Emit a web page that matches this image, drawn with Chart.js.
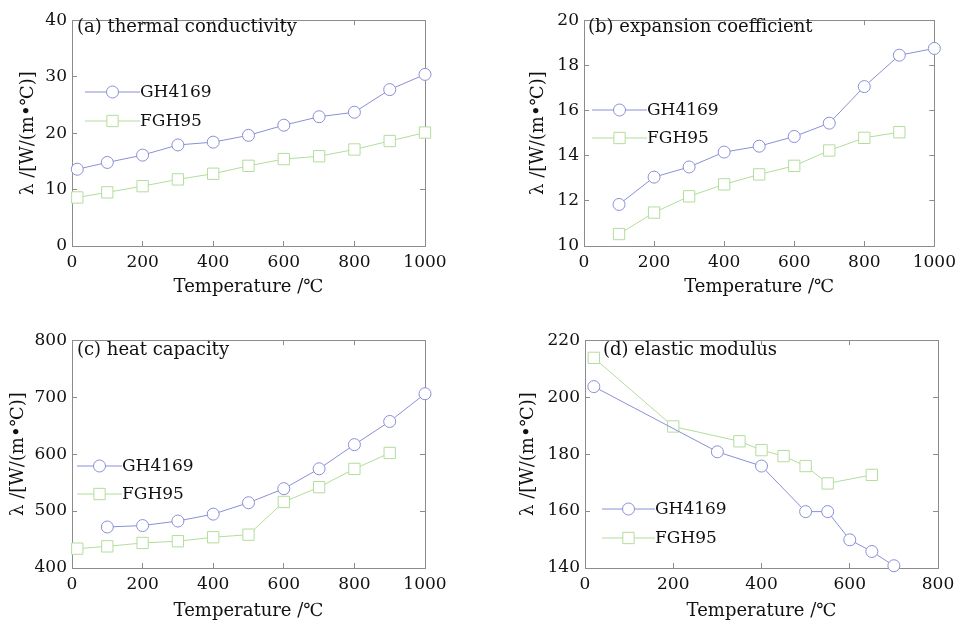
<!DOCTYPE html>
<html>
<head>
<meta charset="utf-8">
<script src="https://cdn.jsdelivr.net/npm/chart.js@4"></script>
<style>
  body { margin: 0; background: #fff; }
  .panel { position: absolute; }
</style>
</head>
<body>
<div class="panel" style="left:0;top:0;width:480px;height:310px"><canvas id="chart-a"></canvas></div>
<div class="panel" style="left:480px;top:0;width:487px;height:310px"><canvas id="chart-b"></canvas></div>
<div class="panel" style="left:0;top:320px;width:480px;height:306px"><canvas id="chart-c"></canvas></div>
<div class="panel" style="left:480px;top:320px;width:487px;height:306px"><canvas id="chart-d"></canvas></div>
<script>
// (a) thermal conductivity
const tempA = [15, 100, 200, 300, 400, 500, 600, 700, 800, 900, 1000];
const gh4169A = [13.6, 14.8, 16.1, 17.9, 18.4, 19.6, 21.4, 22.9, 23.7, 27.7, 30.4];
const fgh95A = [8.6, 9.5, 10.6, 11.8, 12.8, 14.2, 15.4, 15.9, 17.1, 18.6, 20.1];

// (b) expansion coefficient
const tempBGh = [100, 200, 300, 400, 500, 600, 700, 800, 900, 1000];
const gh4169B = [11.84, 13.05, 13.5, 14.16, 14.42, 14.85, 15.44, 17.06, 18.45, 18.75];
const tempBFgh = [100, 200, 300, 400, 500, 600, 700, 800, 900];
const fgh95B = [10.53, 11.48, 12.2, 12.73, 13.17, 13.55, 14.23, 14.79, 15.04];

// (c) heat capacity
const tempCGh = [100, 200, 300, 400, 500, 600, 700, 800, 900, 1000];
const gh4169C = [472, 474.5, 482.5, 494.6, 514.6, 539.3, 574.2, 616.6, 657.3, 706];
const tempCFgh = [15, 100, 200, 300, 400, 500, 600, 700, 800, 900];
const fgh95C = [434, 438, 444, 447, 454, 458.5, 516, 542, 574, 602];

// (d) elastic modulus
const tempDGh = [20, 300, 400, 500, 550, 600, 650, 700];
const gh4169D = [203.7, 180.8, 175.8, 159.8, 159.8, 149.9, 145.8, 140.8];
const tempDFgh = [20, 200, 350, 400, 450, 500, 550, 650];
const fgh95D = [213.8, 189.7, 184.5, 181.4, 179.3, 175.8, 169.7, 172.7];

const seriesNames = ["GH4169", "FGH95"];
const panelLabels = [
  "(a) thermal conductivity",
  "(b) expansion coefficient",
  "(c) heat capacity",
  "(d) elastic modulus",
];
const xTitle = "Temperature /\u2103";
const yTitle = "\u03bb /[W/(m\u2022\u2103)]";

const blue = "#8a8fd6";
const green = "#b3dd9c";
const axisGray = "#8c8c8c";
const serif = "'DejaVu Serif', serif";

const pts = (xs, ys) => xs.map((x, i) => ({ x: x, y: ys[i] }));

// legend drawn as line + marker + text, like the original figure
const lineLegend = {
  id: "lineLegend",
  afterDatasetsDraw(chart, args, opts) {
    const ctx = chart.ctx;
    ctx.save();
    chart.data.datasets.forEach((ds, i) => {
      const y = opts.ys[i];
      ctx.strokeStyle = ds.borderColor;
      ctx.lineWidth = 1;
      ctx.beginPath();
      ctx.moveTo(opts.x, y);
      ctx.lineTo(opts.x + opts.len, y);
      ctx.stroke();
      ctx.fillStyle = "#fff";
      ctx.strokeStyle = ds.borderColor;
      Chart.helpers.drawPoint(
        ctx,
        { pointStyle: ds.pointStyle, radius: ds.pointRadius, borderWidth: 1 },
        opts.x + opts.len / 2,
        y
      );
      ctx.fillStyle = "#111";
      ctx.font = "17px " + serif;
      ctx.textBaseline = "middle";
      ctx.textAlign = "left";
      ctx.fillText(ds.label, opts.x + opts.len, y + 1);
    });
    ctx.restore();
  },
};

const panelLabel = {
  id: "panelLabel",
  afterDraw(chart, args, opts) {
    const ctx = chart.ctx;
    ctx.save();
    ctx.fillStyle = "#111";
    ctx.font = "18px " + serif;
    ctx.textBaseline = "middle";
    ctx.fillText(opts.text, opts.x, opts.y);
    ctx.restore();
  },
};

const mk = (id, cfg) => {
  const ds = [
    {
      label: seriesNames[0],
      data: cfg.gh,
      borderColor: blue,
      pointStyle: "circle",
      pointRadius: 6,
    },
    {
      label: seriesNames[1],
      data: cfg.fgh,
      borderColor: green,
      pointStyle: "rect",
      pointRadius: 8,
    },
  ].map((d) => ({
    ...d,
    backgroundColor: "#fff",
    borderWidth: 1,
    pointBorderWidth: 1,
    pointBorderColor: d.borderColor,
    pointBackgroundColor: "#fff",
    pointHoverRadius: d.pointRadius,
    tension: 0,
    clip: false,
  }));

  const tickFont = { family: serif, size: 17 };
  const plain = (v) => String(v);
  const hiddenAxis = (axis, pos, fitKey) => ({
    type: "linear",
    position: pos,
    min: axis.min,
    max: axis.max,
    ticks: { display: false, stepSize: axis.step },
    grid: { drawOnChartArea: false, drawTicks: true, tickLength: -5, color: axisGray },
    border: { color: axisGray },
    afterFit: (s) => { s[fitKey] = 0; },
  });

  new Chart(document.getElementById(id), {
    type: "line",
    data: { datasets: ds },
    options: {
      responsive: true,
      maintainAspectRatio: false,
      animation: false,
      layout: { padding: { left: 0, top: cfg.padTop, right: cfg.padRight, bottom: 0 } },
      plugins: {
        legend: { display: false },
        tooltip: { enabled: false },
        lineLegend: cfg.legend,
        panelLabel: cfg.label,
      },
      scales: {
        x: {
          type: "linear",
          position: "bottom",
          min: cfg.x.min,
          max: cfg.x.max,
          ticks: { stepSize: cfg.x.step, color: "#111", font: tickFont, padding: 11, maxRotation: 0, callback: plain },
          grid: { drawOnChartArea: false, drawTicks: true, tickLength: -5, color: axisGray },
          border: { color: axisGray },
          title: {
            display: true,
            text: xTitle,
            color: "#111",
            font: { family: serif, size: 18 },
            padding: { top: 0, bottom: cfg.xTitlePad },
          },
          afterFit: (s) => { s.height = cfg.xHeight; },
        },
        x2: hiddenAxis(cfg.x, "top", "height"),
        y: {
          type: "linear",
          position: "left",
          min: cfg.y.min,
          max: cfg.y.max,
          ticks: { stepSize: cfg.y.step, color: "#111", font: tickFont, padding: 10, callback: plain },
          grid: { drawOnChartArea: false, drawTicks: true, tickLength: -5, color: axisGray },
          border: { color: axisGray },
          title: {
            display: true,
            text: yTitle,
            color: "#111",
            font: { family: serif, size: 18 },
            padding: { top: cfg.yTitlePad, bottom: 0 },
          },
          afterFit: (s) => { s.width = cfg.yWidth; },
        },
        y2: hiddenAxis(cfg.y, "right", "width"),
      },
    },
    plugins: [lineLegend, panelLabel],
  });
};

mk("chart-a", {
  gh: pts(tempA, gh4169A),
  fgh: pts(tempA, fgh95A),
  x: { min: 0, max: 1000, step: 200 },
  y: { min: 0, max: 40, step: 10 },
  padTop: 15, padRight: 55, xHeight: 64, yWidth: 72,
  xTitlePad: 12, yTitlePad: 18,
  legend: { x: 85, len: 55, ys: [92, 121] },
  label: { text: panelLabels[0], x: 77, y: 27 },
});

mk("chart-b", {
  gh: pts(tempBGh, gh4169B),
  fgh: pts(tempBFgh, fgh95B),
  x: { min: 0, max: 1000, step: 200 },
  y: { min: 10, max: 20, step: 2 },
  padTop: 15, padRight: 29, xHeight: 64, yWidth: 104,
  xTitlePad: 12, yTitlePad: 48,
  legend: { x: 112, len: 55, ys: [110, 138] },
  label: { text: panelLabels[1], x: 108, y: 27 },
});

mk("chart-c", {
  gh: pts(tempCGh, gh4169C),
  fgh: pts(tempCFgh, fgh95C),
  x: { min: 0, max: 1000, step: 200 },
  y: { min: 400, max: 800, step: 100 },
  padTop: 16, padRight: 55, xHeight: 58, yWidth: 72,
  xTitlePad: 4, yTitlePad: 8,
  legend: { x: 77, len: 45, ys: [146, 174] },
  label: { text: panelLabels[2], x: 77, y: 30 },
});

mk("chart-d", {
  gh: pts(tempDGh, gh4169D),
  fgh: pts(tempDFgh, fgh95D),
  x: { min: 0, max: 800, step: 200 },
  y: { min: 140, max: 220, step: 20 },
  padTop: 16, padRight: 29, xHeight: 58, yWidth: 105,
  xTitlePad: 4, yTitlePad: 38,
  legend: { x: 122, len: 53, ys: [189, 218] },
  label: { text: panelLabels[3], x: 123, y: 30 },
});
</script>
</body>
</html>
